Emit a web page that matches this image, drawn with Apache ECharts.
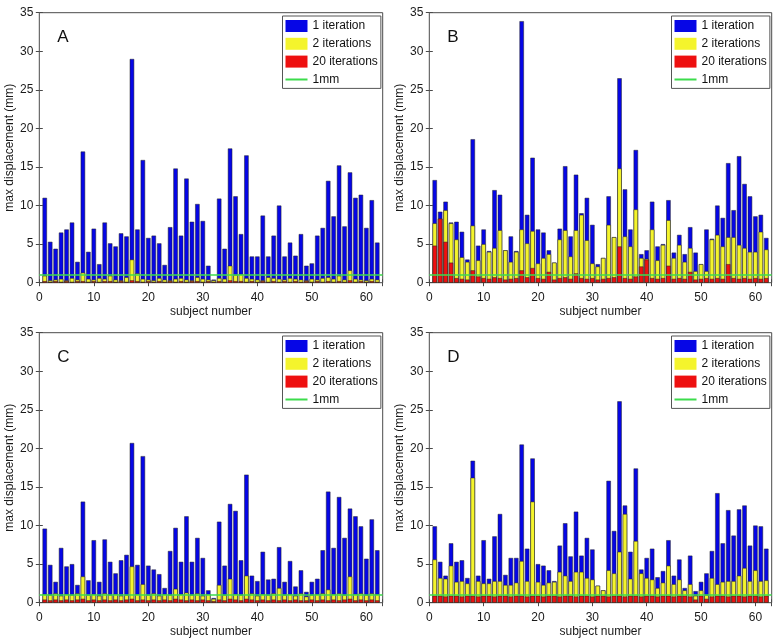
<!DOCTYPE html>
<html>
<head>
<meta charset="utf-8">
<script src="https://cdn.jsdelivr.net/npm/echarts@6/dist/echarts.min.js"></script>
<style>html,body{margin:0;padding:0;background:#fff}#c{width:780px;height:641px}</style>
</head>
<body>
<div id="c"></div>
<script>
// ---- data ----
const subjects = Array.from({length: 62}, (_, i) => i + 1);
const xTicks = [0, 10, 20, 30, 40, 50, 60];
const yTicks = [0, 5, 10, 15, 20, 25, 30, 35];
const seriesNames = ['1 iteration', '2 iterations', '20 iterations', '1mm'];
const panelLetters = ['A', 'B', 'C', 'D'];
const THRESHOLD_MM = 1;

const A_iter1 = [11.0,5.3,4.4,6.5,6.9,7.8,2.7,17.0,4.0,7.0,2.4,7.8,5.1,4.7,6.4,6.0,29.0,6.9,15.9,5.8,6.1,5.1,2.3,7.2,14.8,6.1,13.5,7.9,10.2,8.0,2.2,0.4,10.9,4.4,17.4,11.2,6.3,16.5,3.4,3.4,8.7,3.4,6.1,10.0,3.4,5.2,3.5,6.3,2.2,2.5,6.1,7.1,13.2,8.6,15.2,7.3,14.3,11.0,11.4,7.1,10.7,5.2];
const A_iter2 = [0.9,0.3,0.4,0.5,0.3,0.6,0.4,1.3,0.5,0.4,0.6,0.5,0.9,0.4,0.3,0.7,3.0,1.2,0.5,0.4,0.3,0.6,0.4,0.3,0.5,0.6,0.4,0.3,0.7,0.5,0.4,0.3,0.6,0.5,2.2,1.0,1.1,0.6,0.5,0.4,0.3,0.7,0.6,0.5,0.4,0.6,0.5,0.4,0.3,0.5,0.4,0.6,0.7,0.5,0.9,0.4,1.6,0.5,0.4,0.3,0.5,0.4];
const A_iter20 = [0.2,0.1,0.2,0.1,0.2,0.1,0.2,0.2,0.1,0.2,0.1,0.2,0.2,0.1,0.2,0.1,0.3,0.2,0.1,0.2,0.1,0.2,0.1,0.2,0.1,0.2,0.1,0.2,0.2,0.1,0.2,0.1,0.2,0.1,0.3,0.2,0.2,0.1,0.2,0.1,0.2,0.1,0.2,0.1,0.2,0.1,0.2,0.1,0.2,0.1,0.2,0.1,0.2,0.1,0.2,0.1,0.3,0.1,0.2,0.1,0.2,0.1];

const B_iter1 = [13.3,9.2,10.5,7.8,7.9,6.6,3.0,18.6,4.8,6.9,4.1,12.0,11.4,4.2,6.0,4.1,33.9,8.8,16.2,6.9,6.5,4.2,2.6,7.0,15.1,6.0,14.0,9.0,11.0,7.5,2.4,3.2,11.2,5.9,26.5,12.1,6.9,17.2,3.7,4.2,10.5,4.7,5.0,10.7,3.9,6.2,3.7,7.2,3.9,2.4,6.9,5.7,10.0,8.4,15.5,9.4,16.4,12.8,11.2,8.6,8.8,5.8];
const B_iter2 = [7.7,8.3,9.4,7.7,5.6,3.3,2.7,7.4,2.9,5.0,4.0,4.5,6.8,4.2,2.7,4.0,6.9,5.1,6.7,2.5,3.2,3.7,2.6,5.6,6.8,3.4,6.8,8.8,5.5,2.5,2.1,3.2,7.5,5.9,14.8,6.0,4.7,9.5,3.2,3.1,6.9,2.9,4.9,8.1,3.2,4.9,2.7,4.5,1.5,2.4,1.5,5.6,6.2,4.7,5.9,5.9,4.9,4.5,4.0,4.0,6.6,4.3];
const B_iter20 = [4.8,8.3,5.3,2.6,0.6,0.5,0.4,1.6,0.8,0.6,0.5,0.7,0.6,0.4,0.5,0.6,1.6,0.7,1.9,0.6,0.5,1.4,0.4,0.6,0.7,0.5,1.2,0.6,0.5,0.6,0.4,0.5,0.6,0.7,4.7,0.6,0.5,0.8,2.1,3.0,0.6,0.5,0.6,2.2,0.5,0.6,0.5,1.4,0.4,0.5,0.6,0.5,0.6,0.5,2.4,0.6,0.5,0.6,0.5,0.6,0.5,0.6];

const C_iter1 = [9.6,4.9,2.7,7.1,4.7,5.0,2.3,13.1,2.9,8.1,2.7,8.2,5.3,3.8,5.5,6.2,20.7,4.9,19.0,4.8,4.3,3.7,1.9,6.7,9.7,5.3,11.2,5.3,8.4,5.8,1.6,0.6,10.5,4.8,12.8,11.9,5.5,16.6,3.5,2.8,6.6,3.0,3.1,7.2,2.7,5.4,2.1,4.2,1.4,2.7,3.1,6.8,14.4,7.1,13.7,8.4,12.2,11.2,9.9,5.7,10.8,6.8];
const C_iter2 = [1.1,1.0,1.2,0.9,1.1,1.0,1.2,3.4,1.0,1.1,0.9,1.2,1.0,1.1,0.9,1.0,4.7,1.1,2.4,1.0,1.2,0.9,1.1,1.0,1.8,1.1,1.3,1.0,1.2,0.9,1.1,0.5,2.3,1.0,3.1,1.1,1.0,3.5,1.2,0.9,1.1,1.0,1.2,1.9,1.0,1.1,0.9,1.2,0.8,1.0,1.1,1.2,1.7,1.1,1.2,1.0,3.4,1.1,1.2,1.0,1.2,1.1];
const C_iter20 = [0.4,0.3,0.4,0.3,0.4,0.3,0.4,0.5,0.3,0.4,0.3,0.4,0.3,0.4,0.3,0.4,0.5,0.3,0.4,0.3,0.4,0.3,0.4,0.3,0.5,0.4,0.3,0.4,0.3,0.4,0.3,0.2,0.4,0.3,0.5,0.4,0.3,0.5,0.4,0.3,0.4,0.3,0.4,0.3,0.4,0.3,0.4,0.3,0.3,0.4,0.3,0.4,0.3,0.4,0.3,0.4,0.5,0.3,0.4,0.3,0.4,0.3];

const D_iter1 = [9.9,5.3,3.5,7.7,5.3,5.5,3.2,18.4,3.5,8.1,3.1,8.6,11.5,3.6,5.8,5.8,20.5,7.0,18.7,5.0,4.8,4.2,2.8,7.4,10.3,6.0,11.8,6.1,8.4,6.9,2.2,1.6,15.8,9.3,26.1,12.6,6.6,17.4,4.3,5.8,7.0,3.3,4.1,8.1,3.5,5.6,1.9,6.1,1.5,2.7,3.8,6.7,14.2,7.7,12.0,8.7,12.1,12.6,7.4,10.0,9.9,7.0];
const D_iter2 = [5.6,3.2,3.1,4.8,2.7,2.8,2.5,16.2,2.8,2.5,2.5,2.8,2.8,2.3,2.3,2.6,5.4,2.8,13.1,2.7,2.3,2.6,2.7,4.0,3.5,2.8,4.0,4.0,3.2,3.0,2.2,1.6,4.2,3.8,6.6,11.5,3.1,8.0,3.8,3.2,3.0,1.9,2.6,4.8,2.4,3.0,1.6,2.4,0.9,1.6,1.0,3.2,2.4,2.7,2.8,2.8,3.5,4.5,2.8,4.2,2.8,2.9];
const D_iter20 = [0.9,0.9,0.8,0.9,0.9,0.8,0.9,0.9,0.8,0.9,0.9,0.8,0.9,0.9,0.8,0.9,0.9,0.8,0.9,0.9,0.8,0.9,0.9,0.8,0.9,0.9,0.8,0.9,0.9,0.8,0.9,0.9,0.8,0.9,0.9,0.8,0.9,0.9,0.8,0.9,0.9,0.8,0.9,0.9,0.8,0.9,0.9,0.8,0.4,0.9,0.5,0.8,0.9,0.9,0.8,0.9,0.9,0.8,0.9,0.9,0.8,0.9];

const panelData = [
  [A_iter1, A_iter2, A_iter20],
  [B_iter1, B_iter2, B_iter20],
  [C_iter1, C_iter2, C_iter20],
  [D_iter1, D_iter2, D_iter20]
];

// ---- layout & style ----
const FONT = 'Liberation Sans, Arial, Helvetica, sans-serif';
const barColors = ['#0606e6', '#f4f42c', '#ee1010'];
const lineColor = '#3cdc4c';
const LINE_ICON = 'path://M0,0L0.02,0L0.02,0.02Z M0,5L22,5L22,7L0,7Z M0,12L0.02,12L0.02,11.98Z';
const grids = [
  {left: 39.3, top: 12.7, width: 343.4, height: 270},
  {left: 429.3, top: 12.7, width: 342.4, height: 270},
  {left: 39.3, top: 332.7, width: 343.4, height: 270},
  {left: 429.3, top: 332.7, width: 342.4, height: 270}
];
const X_MAX = 63, Y_MAX = 35;

const option = {
  animation: false,
  backgroundColor: '#fff',
  textStyle: {fontFamily: FONT},
  grid: grids.map(g => Object.assign({show: true, borderColor: '#4a4a4a', borderWidth: 1, backgroundColor: '#fff'}, g)),
  xAxis: [], yAxis: [], series: [], legend: [], title: []
};

grids.forEach((g, p) => {
  const tickCommon = {show: true, inside: true, length: 3.5, lineStyle: {color: '#4a4a4a', width: 1}};
  option.xAxis.push({
    type: 'value', gridIndex: p, min: 0, max: X_MAX, interval: 10,
    name: 'subject number', nameLocation: 'middle', nameGap: 23,
    nameTextStyle: {fontSize: 12, color: '#1a1a1a', fontFamily: FONT},
    axisLine: {show: false}, axisTick: tickCommon, splitLine: {show: false},
    axisLabel: {fontSize: 12, color: '#1a1a1a', margin: 9, fontFamily: FONT,
      formatter: v => xTicks.indexOf(v) >= 0 ? String(v) : ''}
  });
  option.xAxis.push({
    type: 'value', gridIndex: p, min: 0, max: X_MAX, interval: 10, position: 'top',
    axisLine: {show: false}, axisTick: tickCommon, splitLine: {show: false}, axisLabel: {show: false}
  });
  option.yAxis.push({
    type: 'value', gridIndex: p, min: 0, max: Y_MAX, interval: 5,
    name: 'max displacement (mm)', nameLocation: 'middle', nameGap: 14,
    nameTextStyle: {fontSize: 12, color: '#1a1a1a', fontFamily: FONT},
    axisLine: {show: false}, axisTick: tickCommon, splitLine: {show: false},
    axisLabel: {fontSize: 12, color: '#1a1a1a', margin: 6, fontFamily: FONT,
      formatter: v => yTicks.indexOf(v) >= 0 ? String(v) : ''}
  });
  option.yAxis.push({
    type: 'value', gridIndex: p, min: 0, max: Y_MAX, interval: 5, position: 'right',
    axisLine: {show: false}, axisTick: tickCommon, splitLine: {show: false}, axisLabel: {show: false}
  });

  panelData[p].forEach((vals, k) => {
    option.series.push({
      type: 'bar', name: seriesNames[k], xAxisIndex: p * 2, yAxisIndex: p * 2,
      barWidth: 4.4, barGap: '-100%',
      itemStyle: {color: barColors[k], borderColor: '#222', borderWidth: 0.5},
      data: subjects.map((s, i) => [s, vals[i]])
    });
  });
  option.series.push({
    type: 'line', name: seriesNames[3], xAxisIndex: p * 2, yAxisIndex: p * 2,
    symbol: 'none', data: [], z: 5,
    lineStyle: {color: lineColor, width: 1.5}, itemStyle: {color: lineColor},
    markLine: {silent: true, symbol: 'none', label: {show: false},
      lineStyle: {color: lineColor, width: 1.5, type: 'solid'},
      data: [{yAxis: THRESHOLD_MM}]}
  });

  option.legend.push({
    orient: 'vertical', left: g.left + g.width - 100.2, top: g.top + 3.3,
    data: [
      {name: seriesNames[0], icon: 'rect'},
      {name: seriesNames[1], icon: 'rect'},
      {name: seriesNames[2], icon: 'rect'},
      {name: seriesNames[3], icon: LINE_ICON, itemStyle: {color: lineColor}}
    ],
    itemWidth: 22, itemHeight: 12, itemGap: 3.8,
    itemStyle: {borderWidth: 0},
    padding: [3, 3, 2, 3], borderColor: '#555', borderWidth: 1, backgroundColor: '#fff',
    textStyle: {fontSize: 12, lineHeight: 14, color: '#111', fontFamily: FONT},
    selectedMode: false
  });
  option.title.push({
    text: panelLetters[p], left: g.left + 18, top: g.top + 16.5, padding: 0,
    textStyle: {fontSize: 17, fontWeight: 'normal', color: '#111', fontFamily: FONT}
  });
});

const chart = echarts.init(document.getElementById('c'), null, {renderer: 'canvas'});
chart.setOption(option);
</script>
</body>
</html>
